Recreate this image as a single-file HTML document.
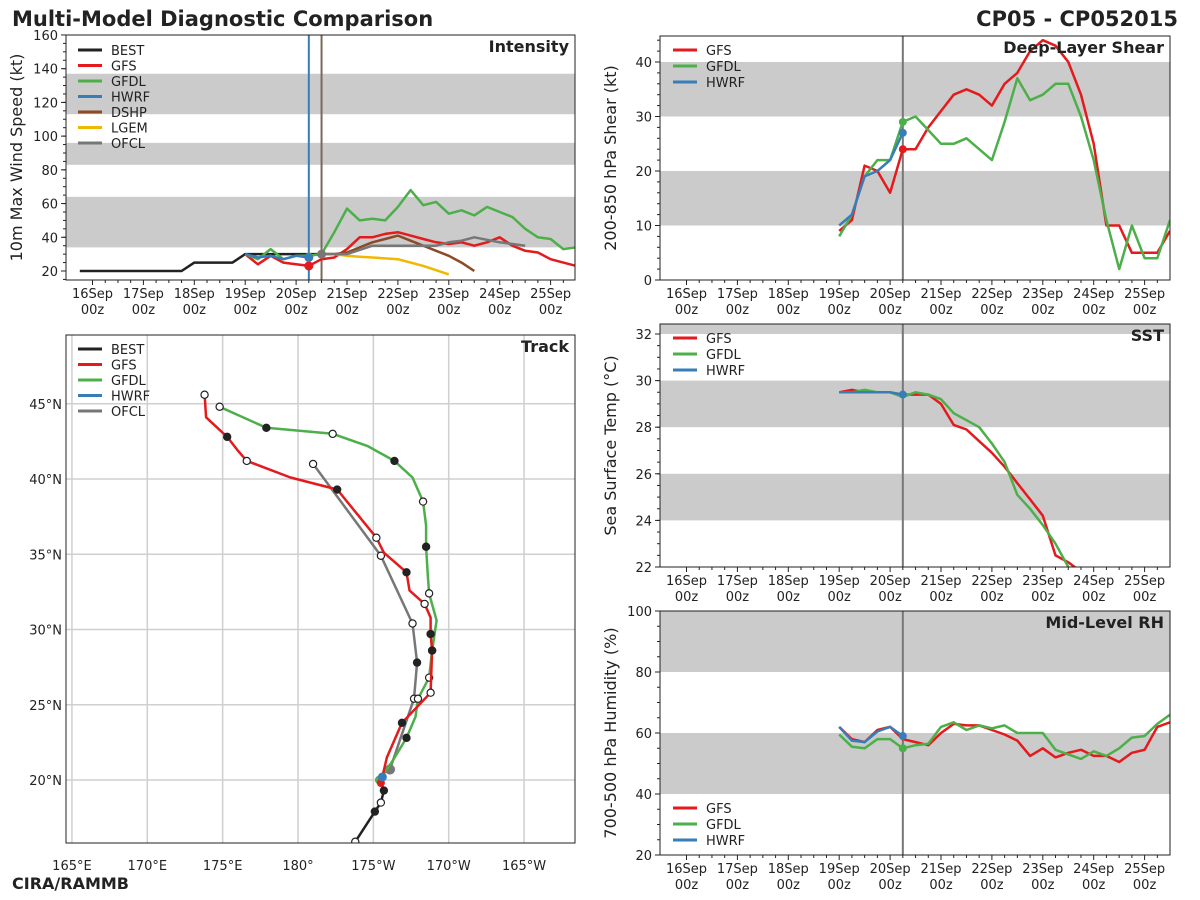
<!DOCTYPE html>
<html><head><meta charset="utf-8"><style>
body{margin:0;background:#fff;}
svg{display:block;font-family:"DejaVu Sans","Liberation Sans",sans-serif;}
</style></head><body>
<svg id="c" width="1200" height="900" xmlns="http://www.w3.org/2000/svg">
<text x="12" y="26" font-size="21" font-weight="bold" fill="#222">Multi-Model Diagnostic Comparison</text>
<text x="1178" y="26" font-size="21" font-weight="bold" fill="#222" text-anchor="end">CP05 - CP052015</text>
<text x="12" y="889" font-size="16" font-weight="bold" fill="#222">CIRA/RAMMB</text>
</svg>
<script>
// ---- Data (hours from 16Sep 00z, 6-hourly) ----
const dayLabels=["16Sep","17Sep","18Sep","19Sep","20Sep","21Sep","22Sep","23Sep","24Sep","25Sep"];
const bestStart=-6;
const bestInt=[20,20,20,20,20,20,20,20,20,25,25,25,25,30,30,30,30,30,30,30,30];
const gfsStart=72;
const gfsInt=[30,24,29,25,24,23,27,28,33,40,40,42,43,41,39,37,36,37,35,37,40,35,32,31,27,25,23];
const gfdlInt=[30,27,33,27,29,29,30,43,57,50,51,50,58,68,59,61,54,56,53,58,55,52,45,40,39,33,34];
const hwrfInt=[30,28,29,27,29,28];
const dshpStart=108;
const dshpInt=[30,30,31,34,37,39,41,38,35,32,29,25,20];
const lgemInt=[30,30,29,28.5,28,27.5,27,25,23,20.5,18];
const ofclInt=[30,30,30,32.5,35,35,35,35,35,35,37,38,40,38.5,37,36,35];
const gfsShear=[9,11,21,20,16,24,24,28,31,34,35,34,32,36,38,42,44,43,40,34,25,10,10,5,5,5,9];
const gfdlShear=[8,12,19,22,22,29,30,27.5,25,25,26,24,22,29,37,33,34,36,36,30,22,11,2,10,4,4,11];
const hwrfShear=[10,12,19,20,22,27];
const gfsSst=[29.5,29.6,29.5,29.5,29.5,29.4,29.4,29.4,29.0,28.1,27.9,27.4,26.9,26.3,25.6,24.9,24.2,22.5,22.2,21.8];
const gfdlSst=[29.5,29.5,29.6,29.5,29.5,29.3,29.5,29.4,29.2,28.6,28.3,28.0,27.3,26.5,25.1,24.5,23.8,23.0,22.0,21.5];
const hwrfSst=[29.5,29.5,29.5,29.5,29.5,29.4];
const gfsRh=[62,58,57,61,62,58,57,56,60,63,62.5,62.5,61,59.5,57.5,52.5,55,52,53.5,54.5,52.5,52.5,50.5,53.5,54.5,62,63.5];
const gfdlRh=[59.5,55.5,55,58,58,55,56,56.5,62,63.5,61,62.5,61.5,62.5,60,60,60,54.5,53,51.5,54,52.5,55,58.5,59,63,66];
const hwrfRh=[62,57.5,57,60.5,62,59];
// Track (lon in degrees east 0-360, lat)
const bestLon=[183.8,185.1,185.5,185.7,185.5];
const bestLat=[15.9,17.9,18.5,19.3,19.8];
const bestMk=[0,1,0,1,2];
const gfsLon=[185.5,185.9,186.9,188.8,188.9,188.8,188.8,188.4,187.4,187.2,185.7,185.2,182.6,179.5,176.6,176.0,175.3,173.9,173.8];
const gfsLat=[19.8,21.5,23.8,25.8,28.6,29.7,30.8,31.7,32.6,33.8,35.1,36.1,39.3,40.1,41.2,41.9,42.8,44.1,45.6];
const gfsMk=[2,2,1,0,1,1,2,0,2,1,2,0,1,2,0,2,1,2,0];
const gfdlLon=[185.4,186.3,187.2,187.8,187.96,188.7,188.9,189.2,188.7,188.6,188.5,188.5,188.3,187.6,186.4,184.6,182.3,177.9,174.8];
const gfdlLat=[20.0,21.3,22.8,24.2,25.4,26.8,28.6,30.6,32.4,33.8,35.5,36.9,38.5,40.1,41.2,42.2,43.0,43.4,44.8];
const gfdlMk=[2,2,1,2,0,0,1,2,0,2,1,2,0,2,1,2,0,1,0];
const ofclLon=[186.1,187.7,187.9,187.6,185.5,181.0];
const ofclLat=[20.7,25.4,27.8,30.4,34.9,41.0];
const ofclMk=[3,0,1,0,0,0];
const hwrfLon=[185.6];const hwrfLat=[20.2];
const lonTicks=[165,170,175,180,185,190,195];
const lonLabels=["165°E","170°E","175°E","180°","175°W","170°W","165°W"];
const latTicks=[20,25,30,35,40,45];

const C={best:"#222",gfs:"#e41a1c",gfdl:"#4daf4a",hwrf:"#377eb8",dshp:"#8c4a26",lgem:"#f0b800",ofcl:"#777"};
const svg=document.getElementById('c');
const NS="http://www.w3.org/2000/svg";
function mk(tag,a,parent){const e=document.createElementNS(NS,tag);for(const k in a)e.setAttribute(k,a[k]);(parent||svg).appendChild(e);return e;}

function panel(name,x0,y0,x1,y1){
  const g=mk('g',{});
  
  
  const cp=mk('clipPath',{id:'cp-'+name},g);
  mk('rect',{x:x0,y:y0,width:x1-x0,height:y1-y0},cp);
  const inner=mk('g',{'clip-path':'url(#cp-'+name+')'},g);
  return {g,inner,x0,y0,x1,y1};
}
function frame(p){mk('rect',{x:p.x0,y:p.y0,width:p.x1-p.x0,height:p.y1-p.y0,fill:'none',stroke:'#222','stroke-width':1},p.g);}
function band(p,ya,yb){const r=mk('rect',{x:p.x0,y:Math.min(ya,yb),width:p.x1-p.x0,height:Math.abs(ya-yb),fill:'#cbcbcb'},p.inner);}
function tx(p,h){return p.x0+26.5+h*50.9/24;}
function series(p,start,vals,fy,color,name,w){
  const pts=vals.map((v,i)=>tx(p,start+i*6).toFixed(1)+','+fy(v).toFixed(1)).join(' ');
  const l=mk('polyline',{points:pts,fill:'none',stroke:color,'stroke-width':w||2.5,'stroke-linejoin':'round'},p.inner);
  
  
}
function dot(p,x,y,color,name,r){const c=mk('circle',{cx:x,cy:y,r:r||4.5,fill:color},p.inner);}
function timeAxis(p){
  dayLabels.forEach((d,i)=>{const x=tx(p,i*24);
    mk('line',{x1:x,x2:x,y1:p.y1,y2:p.y1+5,stroke:'#222'},p.g);
    const t=mk('text',{x:x,y:p.y1+18,'font-size':13,'text-anchor':'middle',fill:'#222'},p.g);t.textContent=d;
    
    const t2=mk('text',{x:x,y:p.y1+34,'font-size':13,'text-anchor':'middle',fill:'#222'},p.g);t2.textContent='00z';
    
    for(let k=1;k<4;k++){const xm=tx(p,i*24+k*6);if(xm<p.x1)mk('line',{x1:xm,x2:xm,y1:p.y1,y2:p.y1+3,stroke:'#222'},p.g);}
  });
}
function yAxis(p,ticks,fy,minor,label){
  ticks.forEach(v=>{const y=fy(v);mk('line',{x1:p.x0-5,x2:p.x0,y1:y,y2:y,stroke:'#222'},p.g);
    const t=mk('text',{x:p.x0-8,y:y+5,'font-size':13,'text-anchor':'end',fill:'#222'},p.g);t.textContent=v;
    });
  minor.forEach(v=>{const y=fy(v);if(y>=p.y0&&y<=p.y1)mk('line',{x1:p.x0-3,x2:p.x0,y1:y,y2:y,stroke:'#222'},p.g);});
  const cy=(p.y0+p.y1)/2;const t=mk('text',{x:0,y:0,'font-size':16,'text-anchor':'middle',fill:'#222',transform:`translate(${p.x0-44},${cy}) rotate(-90)`},p.g);
  t.textContent=label;
}
function title(p,s){const t=mk('text',{x:p.x1-6,y:p.y0+17,'font-size':16,'font-weight':'bold','text-anchor':'end',fill:'#222'},p.g);t.textContent=s;}
function legend(p,items,x,y,dy){
  items.forEach((it,i)=>{const yy=y+i*dy;
    const g=mk('g',{},p.g);
    mk('line',{x1:x,x2:x+24,y1:yy,y2:yy,stroke:it[1],'stroke-width':3},g);
    const t=mk('text',{x:x+33,y:yy+5,'font-size':13,fill:'#222'},g);t.textContent=it[0];});
}
function vline(p,x,color,w){mk('line',{x1:x,x2:x,y1:p.y0,y2:p.y1,stroke:color,'stroke-width':w||2},p.inner);}
function range(a,b,s){const r=[];for(let v=a;v<=b+1e-9;v+=s)r.push(+v.toFixed(3));return r;}

// ---------- Intensity ----------
(function(){
  const p=panel('intensity-panel',66,35,575,280);
  const fy=v=>271-(v-20)*1.686;
  band(p,fy(34),fy(64));band(p,fy(83),fy(96));band(p,fy(113),fy(137));
  vline(p,tx(p,102),C.hwrf,2);vline(p,tx(p,108),'#7a6a5a',2);
  series(p,bestStart,bestInt,fy,C.best,'best-intensity-line');
  series(p,gfsStart,gfsInt,fy,C.gfs,'gfs-intensity-line');
  series(p,gfsStart,gfdlInt,fy,C.gfdl,'gfdl-intensity-line');
  series(p,gfsStart,hwrfInt,fy,C.hwrf,'hwrf-intensity-line');
  series(p,dshpStart,dshpInt,fy,C.dshp,'dshp-intensity-line');
  series(p,dshpStart,lgemInt,fy,C.lgem,'lgem-intensity-line');
  series(p,dshpStart,ofclInt,fy,C.ofcl,'ofcl-intensity-line');
  dot(p,tx(p,102),fy(gfdlInt[5]),C.gfdl,'gfdl-intensity-dot',3.5);
  dot(p,tx(p,102),fy(gfsInt[5]),C.gfs,'gfs-intensity-dot');
  dot(p,tx(p,102),fy(hwrfInt[5]),C.hwrf,'hwrf-intensity-dot');
  dot(p,tx(p,108),fy(ofclInt[0]),C.ofcl,'ofcl-intensity-dot');
  frame(p);timeAxis(p);
  yAxis(p,range(20,160,20),fy,range(15,160,5),'10m Max Wind Speed (kt)');
  title(p,'Intensity');
  legend(p,[['BEST',C.best],['GFS',C.gfs],['GFDL',C.gfdl],['HWRF',C.hwrf],['DSHP',C.dshp],['LGEM',C.lgem],['OFCL',C.ofcl]],78,50,15.5);
})();

// ---------- Track ----------
(function(){
  const p=panel('track-panel',66,335,575,843);
  const fx=lon=>298+(lon-180)*15.07, fy=lat=>780-(lat-20)*15.05;
  lonTicks.forEach((l,i)=>{const x=fx(l);mk('line',{x1:x,x2:x,y1:p.y0,y2:p.y1,stroke:'#cfcfcf','stroke-width':1.5},p.inner);
    const t=mk('text',{x:x,y:p.y1+27,'font-size':13,'text-anchor':'middle',fill:'#222'},p.g);t.textContent=lonLabels[i];
    });
  latTicks.forEach(l=>{const y=fy(l);mk('line',{x1:p.x0,x2:p.x1,y1:y,y2:y,stroke:'#cfcfcf','stroke-width':1.5},p.inner);
    const t=mk('text',{x:p.x0-4,y:y+5,'font-size':13,'text-anchor':'end',fill:'#222'},p.g);t.textContent=l+'°N';
    });
  function trk(lons,lats,mks,color,name){
    const pts=lons.map((l,i)=>fx(l).toFixed(1)+','+fy(lats[i]).toFixed(1)).join(' ');
    const pl=mk('polyline',{points:pts,fill:'none',stroke:color,'stroke-width':2.5,'stroke-linejoin':'round'},p.inner);
    
    lons.forEach((l,i)=>{const m=mks[i];if(m===2)return;
      const c=mk('circle',{cx:fx(l),cy:fy(lats[i]),r:m===3?4.5:3.6,fill:m===0?'#fff':(m===3?color:'#222'),stroke:m===3?color:'#222','stroke-width':1.2},p.inner);
      });
  }
  trk(ofclLon,ofclLat,ofclMk,C.ofcl,'ofcl-track');
  trk(gfdlLon,gfdlLat,gfdlMk,C.gfdl,'gfdl-track');
  trk(gfsLon,gfsLat,gfsMk,C.gfs,'gfs-track');
  trk(bestLon,bestLat,bestMk,C.best,'best-track');
  dot(p,fx(gfdlLon[0]),fy(gfdlLat[0]),C.gfdl,'gfdl-track-start',4.5);
  dot(p,fx(gfsLon[0]),fy(gfsLat[0]),C.gfs,'gfs-track-start',4);
  dot(p,fx(hwrfLon[0]),fy(hwrfLat[0]),C.hwrf,'hwrf-track-start',4.5);
  frame(p);title(p,'Track');
  legend(p,[['BEST',C.best],['GFS',C.gfs],['GFDL',C.gfdl],['HWRF',C.hwrf],['OFCL',C.ofcl]],78,349,15.5);
})();

// ---------- Shear ----------
(function(){
  const p=panel('shear-panel',660,36,1170,280);
  const fy=v=>280-v*5.45;
  band(p,fy(10),fy(20));band(p,fy(30),fy(40));
  vline(p,tx(p,102),'#777',2);
  series(p,72,gfsShear,fy,C.gfs,'gfs-shear-line');
  series(p,72,gfdlShear,fy,C.gfdl,'gfdl-shear-line');
  series(p,72,hwrfShear,fy,C.hwrf,'hwrf-shear-line');
  dot(p,tx(p,102),fy(gfdlShear[5]),C.gfdl,'gfdl-shear-dot',4);
  dot(p,tx(p,102),fy(gfsShear[5]),C.gfs,'gfs-shear-dot',4);
  dot(p,tx(p,102),fy(hwrfShear[5]),C.hwrf,'hwrf-shear-dot',4);
  frame(p);timeAxis(p);
  yAxis(p,range(0,40,10),fy,range(0,44,2),'200-850 hPa Shear (kt)');
  title(p,'Deep-Layer Shear');
  legend(p,[['GFS',C.gfs],['GFDL',C.gfdl],['HWRF',C.hwrf]],673,50,16);
})();

// ---------- SST ----------
(function(){
  const p=panel('sst-panel',660,324,1170,567);
  const fy=v=>567-(v-22)*23.3;
  band(p,fy(24),fy(26));band(p,fy(28),fy(30));band(p,fy(32),fy(33));
  vline(p,tx(p,102),'#777',2);
  series(p,72,gfsSst,fy,C.gfs,'gfs-sst-line');
  series(p,72,gfdlSst,fy,C.gfdl,'gfdl-sst-line');
  series(p,72,hwrfSst,fy,C.hwrf,'hwrf-sst-line');
  dot(p,tx(p,102),fy(hwrfSst[5]),C.hwrf,'hwrf-sst-dot',4);
  frame(p);timeAxis(p);
  yAxis(p,range(22,32,2),fy,range(22,32.4,0.5),'Sea Surface Temp (°C)');
  title(p,'SST');
  legend(p,[['GFS',C.gfs],['GFDL',C.gfdl],['HWRF',C.hwrf]],673,338,16);
})();

// ---------- RH ----------
(function(){
  const p=panel('rh-panel',660,611,1170,855);
  const fy=v=>855-(v-20)*3.05;
  band(p,fy(40),fy(60));band(p,fy(80),fy(100));
  vline(p,tx(p,102),'#777',2);
  series(p,72,gfsRh,fy,C.gfs,'gfs-rh-line');
  series(p,72,gfdlRh,fy,C.gfdl,'gfdl-rh-line');
  series(p,72,hwrfRh,fy,C.hwrf,'hwrf-rh-line');
  dot(p,tx(p,102),fy(gfdlRh[5]),C.gfdl,'gfdl-rh-dot',4);
  dot(p,tx(p,102),fy(hwrfRh[5]),C.hwrf,'hwrf-rh-dot',4);
  frame(p);timeAxis(p);
  yAxis(p,range(20,100,20),fy,range(20,100,5),'700-500 hPa Humidity (%)');
  title(p,'Mid-Level RH');
  legend(p,[['GFS',C.gfs],['GFDL',C.gfdl],['HWRF',C.hwrf]],673,808,16);
})();
</script>
</body></html>
